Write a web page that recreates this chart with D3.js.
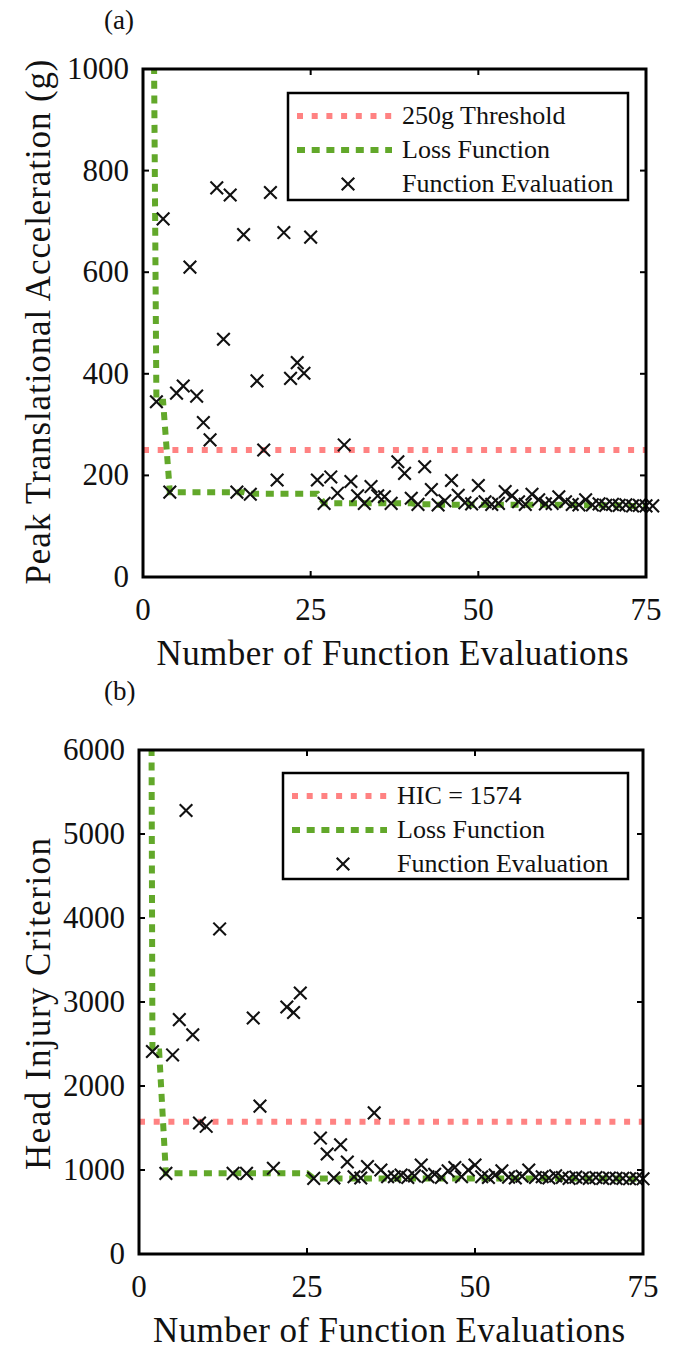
<!DOCTYPE html>
<html>
<head>
<meta charset="utf-8">
<script src="https://cdn.jsdelivr.net/npm/d3@7"></script>
<style>
  body { margin: 0; background: #fff; }
  svg text { font-family: "Times New Roman", Times, "Liberation Serif", serif; fill: #111; }
</style>
</head>
<body>
<div id="chart"></div>
<script>
// evaluation index, shared by both panels
const evalsA = d3.range(1, 77);
const evalsB = d3.range(1, 76);

// (a) peak translational acceleration, g
const ptaValues = [2250, 345, 705, 167, 362, 376, 610, 356, 304, 270,
  766, 468, 752, 167, 674, 163, 386, 250, 757, 191,
  678, 391, 422, 401, 669, 191, 145, 197, 165, 260,
  188, 160, 145, 178, 160, 158, 145, 227, 204, 155,
  143, 217, 172, 142, 150, 190, 161, 146, 144, 180,
  148, 143, 145, 168, 160, 148, 143, 163, 152, 144,
  145, 158, 148, 143, 142, 152, 142, 144, 141, 143,
  141, 142, 140, 141, 140, 140];
const ptaLoss = [2250, 345, 345, 167, 167, 167, 167, 167, 167, 167,
  167, 167, 167, 167, 167, 164, 164, 164, 164, 164,
  164, 164, 164, 164, 164, 164, 145, 145, 145, 145,
  145, 145, 145, 145, 145, 145, 145, 145, 145, 145,
  143, 143, 143, 142, 142, 142, 142, 142, 142, 142,
  142, 142, 142, 142, 142, 142, 142, 142, 142, 142,
  142, 142, 142, 142, 141, 141, 141, 141, 141, 141,
  141, 141, 140, 140, 140, 140];
const ptaThreshold = 250;
const ptaTicks = [0, 200, 400, 600, 800, 1000];

// (b) head injury criterion
const hicValues = [30000, 2410, 8000, 960, 2370, 2790, 5280, 2610, 1560, 1520,
  8500, 3870, 8200, 960, 7400, 960, 2810, 1760, 8300, 1020,
  7500, 2940, 2875, 3107, 7300, 900, 1380, 1190, 905, 1300,
  1095, 920, 905, 1040, 1680, 1000, 920, 920, 940, 910,
  930, 1060, 920, 950, 910, 990, 1030, 920, 1000, 1060,
  920, 910, 940, 990, 915, 905, 925, 1000, 910, 920,
  905, 930, 910, 900, 915, 905, 900, 910, 900, 905,
  900, 900, 895, 900, 895];
const hicLoss = [30000, 2410, 2410, 960, 960, 960, 960, 960, 960, 960,
  960, 960, 960, 960, 960, 960, 960, 960, 960, 960,
  960, 960, 960, 960, 960, 900, 900, 900, 900, 900,
  900, 900, 900, 900, 900, 900, 900, 900, 900, 900,
  900, 900, 900, 900, 900, 900, 900, 900, 900, 900,
  900, 900, 900, 900, 900, 900, 900, 900, 900, 900,
  900, 900, 900, 900, 900, 900, 900, 900, 900, 900,
  900, 900, 895, 895, 895];
const hicThreshold = 1574;
const hicTicks = [0, 1000, 2000, 3000, 4000, 5000, 6000];

const xTicks = [0, 25, 50, 75];
const legendNames = ['Loss Function', 'Function Evaluation'];

const RED = '#ff8282';
const GREEN = '#62a82a';

const svg = d3.select('#chart').append('svg')
  .attr('width', 677)
  .attr('height', 1349);

function crossPath (cx, cy, s) {
  return 'M' + (cx - s) + ',' + (cy - s) + 'L' + (cx + s) + ',' + (cy + s) +
    'M' + (cx - s) + ',' + (cy + s) + 'L' + (cx + s) + ',' + (cy - s);
}

function drawPanel (p) {
  const x = d3.scaleLinear().domain([0, 75]).range([p.left, p.right]);
  const y = d3.scaleLinear().domain([0, p.yMax]).range([p.bottom, p.top]);

  const g = svg.append('g');

  g.append('clipPath')
    .attr('id', p.id + '-clip')
    .append('rect')
    .attr('x', p.left)
    .attr('y', p.top)
    .attr('width', p.right - p.left)
    .attr('height', p.bottom - p.top);

  const plot = g.append('g').attr('clip-path', 'url(#' + p.id + '-clip)');

  // threshold
  plot.append('line')
    .attr('x1', x(0)).attr('x2', x(75))
    .attr('y1', y(p.threshold)).attr('y2', y(p.threshold))
    .attr('stroke', RED)
    .attr('stroke-width', 6)
    .attr('stroke-dasharray', '6,8.7');

  // loss function
  const line = d3.line()
    .x(function (d, i) { return x(p.evals[i]); })
    .y(function (d) { return y(d); });

  plot.append('path')
    .datum(p.loss)
    .attr('d', line)
    .attr('fill', 'none')
    .attr('stroke', GREEN)
    .attr('stroke-width', 6)
    .attr('stroke-dasharray', '8,6.7');

  // evaluations, only those inside the y limits
  const pts = p.evals.map(function (e, i) { return [e, p.values[i]]; })
    .filter(function (d) { return d[1] <= p.yMax; });

  const s = 6.3;
  g.selectAll('.cross-' + p.id)
    .data(pts)
    .enter()
    .append('path')
    .attr('class', 'cross-' + p.id)
    .attr('d', function (d) { return crossPath(x(d[0]), y(d[1]), s); })
    .attr('stroke', '#111')
    .attr('stroke-width', 2.1)
    .attr('fill', 'none');

  // box and ticks (inward, on all sides)
  const tk = 6;
  const axisG = g.append('g').attr('stroke', '#000').attr('stroke-width', 2);
  xTicks.forEach(function (t) {
    axisG.append('line').attr('x1', x(t)).attr('x2', x(t)).attr('y1', p.bottom).attr('y2', p.bottom - tk);
    axisG.append('line').attr('x1', x(t)).attr('x2', x(t)).attr('y1', p.top).attr('y2', p.top + tk);
  });
  p.yTicks.forEach(function (t) {
    axisG.append('line').attr('x1', p.left).attr('x2', p.left + tk).attr('y1', y(t)).attr('y2', y(t));
    axisG.append('line').attr('x1', p.right).attr('x2', p.right - tk).attr('y1', y(t)).attr('y2', y(t));
  });
  g.append('rect')
    .attr('x', p.left).attr('y', p.top)
    .attr('width', p.right - p.left).attr('height', p.bottom - p.top)
    .attr('fill', 'none')
    .attr('stroke', '#000')
    .attr('stroke-width', 3);

  // tick labels
  g.selectAll('.xtl-' + p.id)
    .data(xTicks)
    .enter()
    .append('text')
    .attr('x', function (d) { return x(d); })
    .attr('y', p.bottom + 43)
    .attr('text-anchor', 'middle')
    .style('font-size', '31px')
    .text(function (d) { return d; });

  g.selectAll('.ytl-' + p.id)
    .data(p.yTicks)
    .enter()
    .append('text')
    .attr('x', p.left - 14)
    .attr('y', function (d) { return y(d) + 10; })
    .attr('text-anchor', 'end')
    .style('font-size', '31px')
    .text(function (d) { return d; });

  // axis titles
  g.append('text')
    .attr('x', (p.left + p.right) / 2 - 2)
    .attr('y', p.bottom + 88)
    .attr('text-anchor', 'middle')
    .attr('textLength', 472)
    .attr('lengthAdjust', 'spacing')
    .style('font-size', '35px')
    .text('Number of Function Evaluations');

  g.append('text')
    .attr('transform', 'translate(50,' + p.yLabelCenter + ') rotate(-90)')
    .attr('text-anchor', 'middle')
    .attr('textLength', p.yLabelLength)
    .attr('lengthAdjust', 'spacing')
    .style('font-size', '35px')
    .text(p.yLabel);

  g.append('text')
    .attr('x', 104)
    .attr('y', p.tagY)
    .style('font-size', '27px')
    .text(p.tag);

  // legend
  const lb = p.legend;
  g.append('rect')
    .attr('x', lb.x).attr('y', lb.y)
    .attr('width', lb.w).attr('height', lb.h)
    .attr('fill', '#fff')
    .attr('stroke', '#000')
    .attr('stroke-width', 2.5);

  const rowY = [lb.y + 23, lb.y + 57, lb.y + 91];
  const names = [p.thresholdName].concat(legendNames);
  g.append('line')
    .attr('x1', lb.x + 9).attr('x2', lb.x + 104)
    .attr('y1', rowY[0]).attr('y2', rowY[0])
    .attr('stroke', RED).attr('stroke-width', 6)
    .attr('stroke-dasharray', '6,8.7');
  g.append('line')
    .attr('x1', lb.x + 9).attr('x2', lb.x + 104)
    .attr('y1', rowY[1]).attr('y2', rowY[1])
    .attr('stroke', GREEN).attr('stroke-width', 6)
    .attr('stroke-dasharray', '8,6.7');
  g.append('path')
    .attr('d', crossPath(lb.x + 60, rowY[2], s))
    .attr('stroke', '#111').attr('stroke-width', 2.1);

  g.selectAll('.lgt-' + p.id)
    .data(names)
    .enter()
    .append('text')
    .attr('x', lb.x + 114)
    .attr('y', function (d, i) { return rowY[i] + 8; })
    .style('font-size', '26px')
    .text(function (d) { return d; });
}

drawPanel({
  id: 'a', evals: evalsA, values: ptaValues, loss: ptaLoss,
  threshold: ptaThreshold, thresholdName: '250g Threshold',
  yMax: 1000, yTicks: ptaTicks,
  left: 143, right: 646, top: 69, bottom: 577,
  yLabel: 'Peak Translational Acceleration (g)', yLabelCenter: 322, yLabelLength: 525,
  tag: '(a)', tagY: 29,
  legend: { x: 288, y: 93, w: 340, h: 107 }
});

drawPanel({
  id: 'b', evals: evalsB, values: hicValues, loss: hicLoss,
  threshold: hicThreshold, thresholdName: 'HIC = 1574',
  yMax: 6000, yTicks: hicTicks,
  left: 139, right: 643, top: 750, bottom: 1254,
  yLabel: 'Head Injury Criterion', yLabelCenter: 1004, yLabelLength: 332,
  tag: '(b)', tagY: 700,
  legend: { x: 283, y: 773, w: 345, h: 106 }
});
</script>
</body>
</html>
